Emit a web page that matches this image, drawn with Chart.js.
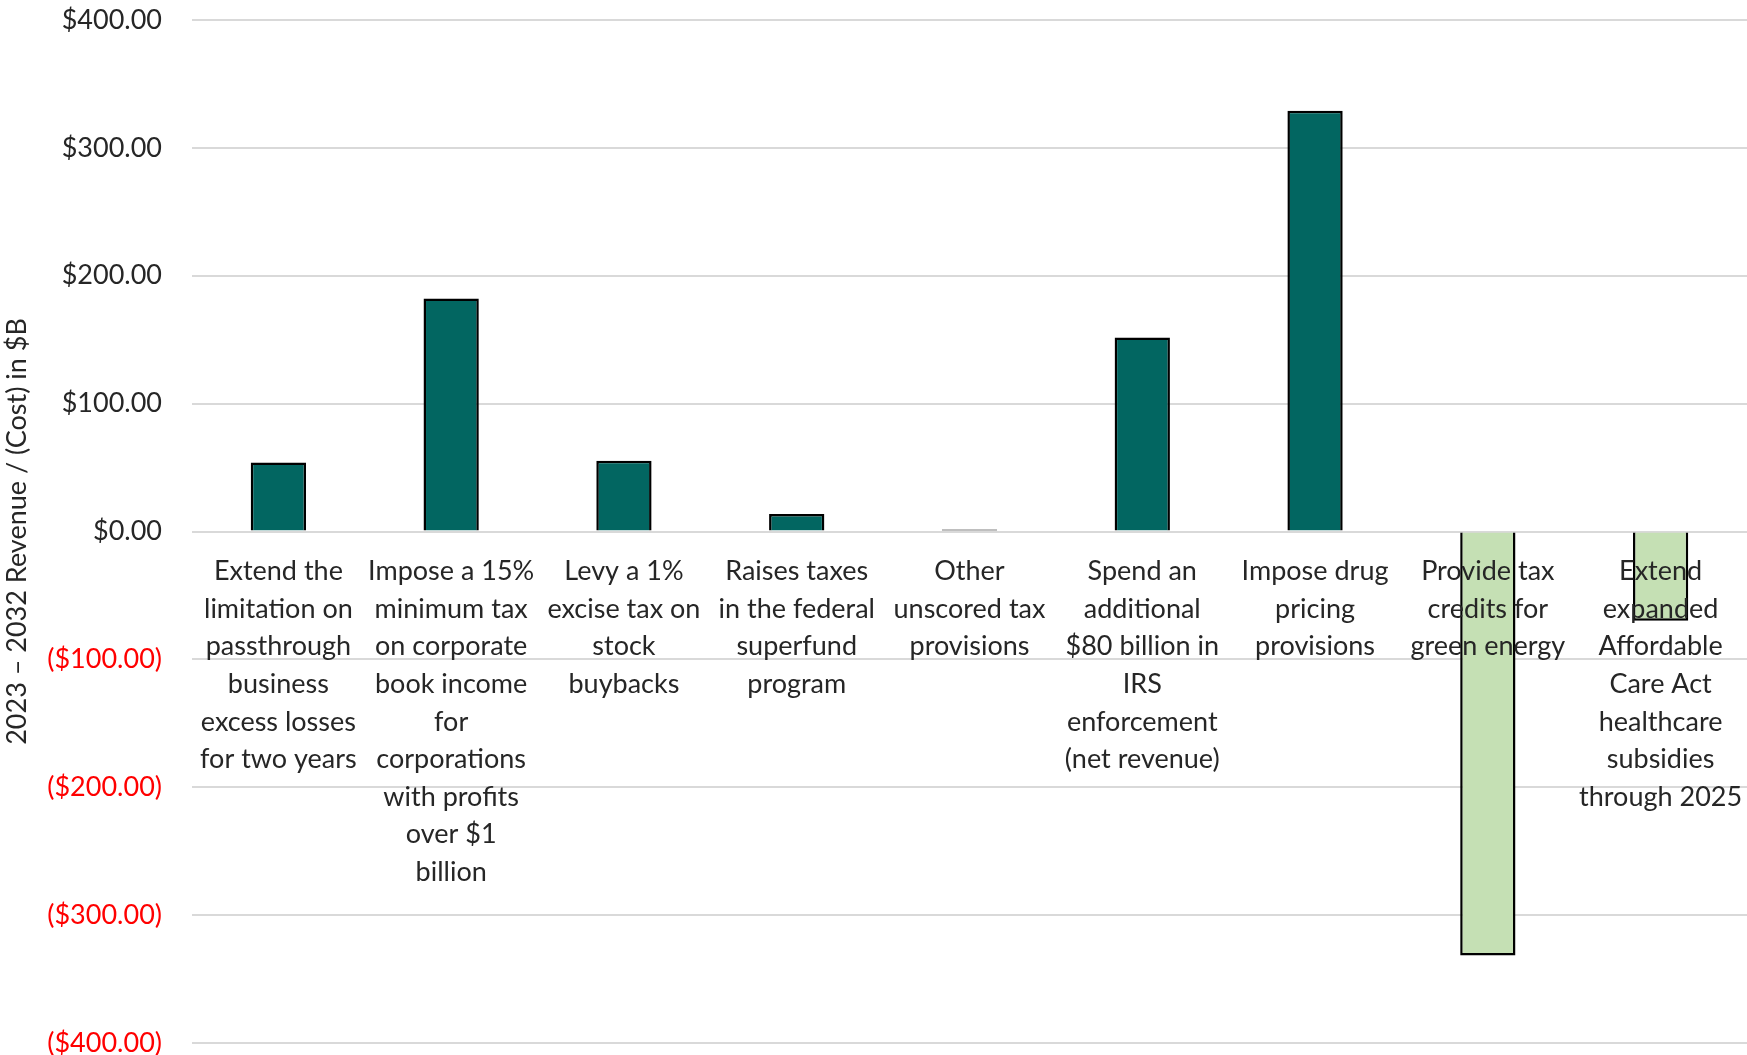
<!DOCTYPE html>
<html>
<head>
<meta charset="utf-8">
<script src="https://cdn.jsdelivr.net/npm/chart.js@4.4.1/dist/chart.umd.min.js"></script>
<style>
  html, body { margin: 0; padding: 0; background: #fff; overflow: hidden; }
  .chartBox { width: 1747px; height: 1055px; position: relative; }
</style>
</head>
<body>
<div class="chartBox"><canvas id="chart"></canvas></div>
<script>
// category labels, already wrapped the way the original shows them
const categories = [
  ['Extend the', 'limitation on', 'passthrough', 'business', 'excess losses', 'for two years'],
  ['Impose a 15%', 'minimum tax', 'on corporate', 'book income', 'for', 'corporations', 'with profits', 'over $1', 'billion'],
  ['Levy a 1%', 'excise tax on', 'stock', 'buybacks'],
  ['Raises taxes', 'in the federal', 'superfund', 'program'],
  ['Other', 'unscored tax', 'provisions'],
  ['Spend an', 'additional', '$80 billion in', 'IRS', 'enforcement', '(net revenue)'],
  ['Impose drug', 'pricing', 'provisions'],
  ['Provide tax', 'credits for', 'green energy'],
  ['Extend', 'expanded', 'Affordable', 'Care Act', 'healthcare', 'subsidies', 'through 2025']
];

// 2023-2032 revenue / (cost), $B
const revenue = [54, 182.3, 55.3, 13.6, 1.5, 151.8, 329, -331.6, -69.8];

const yTicks = [-400, -300, -200, -100, 0, 100, 200, 300, 400];
const yTitle = '2023 \u2013 2032 Revenue / (Cost) in $B';

const TEAL = '#026661';
const GREEN = '#C5E0B4';
const FONT = 'Lato';
const TEXT = '#262626';

const money = (v) => v < 0 ? '($' + Math.abs(v).toFixed(2) + ')' : '$' + v.toFixed(2);

// draws the wrapped category names just under the zero line, over the bars
const categoryLabels = {
  id: 'categoryLabels',
  afterDatasetsDraw(chart) {
    const ctx = chart.ctx;
    const xs = chart.scales.x;
    const y0 = chart.scales.y.getPixelForValue(0);
    ctx.save();
    ctx.font = '27px ' + FONT;
    ctx.fillStyle = TEXT;
    ctx.textAlign = 'center';
    ctx.textBaseline = 'middle';
    categories.forEach((lines, i) => {
      const cx = xs.getPixelForValue(i);
      lines.forEach((t, j) => ctx.fillText(t, cx, y0 + 40 + j * 37.6));
    });
    ctx.restore();
  }
};

const ctx = document.getElementById('chart').getContext('2d');
new Chart(ctx, {
  type: 'bar',
  data: {
    labels: categories.map(l => l.join(' ')),
    datasets: [{
      label: yTitle,
      data: revenue,
      backgroundColor: (c) => c.raw < 0 ? GREEN : TEAL,
      borderColor: '#000',
      borderWidth: 2.5,
      // a bar that is almost zero shows up as just its outline
      borderSkipped: (c) => Math.abs(c.raw) < 3 ? false : 'start',
      barPercentage: 0.32,
      categoryPercentage: 1
    }]
  },
  options: {
    responsive: true,
    maintainAspectRatio: false,
    animation: false,
    layout: {
      padding: { left: 0, right: 0, top: 20, bottom: 12 }
    },
    plugins: {
      legend: { display: false },
      tooltip: {
        callbacks: {
          label: (c) => money(c.raw)
        }
      }
    },
    scales: {
      x: {
        display: false
      },
      y: {
        min: -400,
        max: 400,
        afterFit: (s) => {
          s.width = 192;
          s.paddingTop = 0;
          s.paddingBottom = 0;
        },
        afterBuildTicks: (s) => { s.ticks = yTicks.map(v => ({ value: v })); },
        border: { display: false },
        grid: {
          color: '#D9D9D9',
          lineWidth: 2,
          drawTicks: false
        },
        ticks: {
          padding: 30,
          font: { family: FONT, size: 27 },
          color: (c) => c.tick.value < 0 ? '#FF0000' : TEXT,
          callback: (v) => money(v)
        },
        title: {
          display: true,
          text: yTitle,
          color: TEXT,
          font: { family: FONT, size: 27 },
          padding: { top: 1, bottom: 0 }
        }
      }
    }
  },
  plugins: [categoryLabels]
});
</script>
</body>
</html>
